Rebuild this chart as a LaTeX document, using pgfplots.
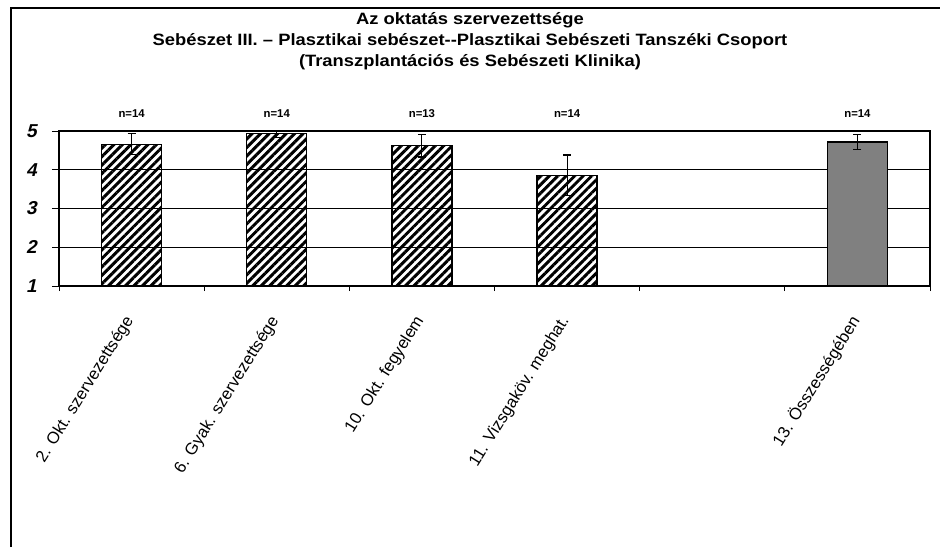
\documentclass[border=0pt]{standalone}
\usepackage{fontspec}
\setmainfont{Liberation Sans}
\newfontfamily\titlefont[FakeStretch=1.12]{Liberation Sans}
\newfontfamily\ytfont[FakeSlant=0.22]{Liberation Sans}
\usepackage{pgfplots}
\pgfplotsset{compat=1.18}
\usetikzlibrary{patterns.meta}
\begin{document}
\begin{tikzpicture}
\useasboundingbox (0,0) rectangle (705pt,410.25pt);
\draw[line width=1.1pt] (8.25pt,0) -- (8.25pt,404.25pt) -- (705.5pt,404.25pt);
\tikzset{tt/.style={anchor=base, inner sep=0pt, font=\titlefont\fontsize{12.3}{14}\selectfont\bfseries}}
\node[tt] at (352.5pt,391.5pt) {Az oktatás szervezettsége};
\node[tt] at (352.5pt,375.75pt) {Sebészet III. – Plasztikai sebészet-{}-Plasztikai Sebészeti Tanszéki Csoport};
\node[tt] at (352.5pt,360pt) {(Transzplantációs és Sebészeti Klinika)};
\begin{axis}[
  at={(44.25pt,195.75pt)}, anchor=south west,
  scale only axis, width=653.25pt, height=116.25pt,
  xmin=-0.5, xmax=5.5, ymin=1, ymax=5,
  ytick={1,2,3,4,5},
  yticklabels={1,2,3,4,5},
  ymajorgrids, grid style={black, line width=0.6pt},
  xtick={0,1,2,3,5},
  xticklabels={2. Okt. szervezettsége, 6. Gyak. szervezettsége, 10. Okt. fegyelem, 11. Vizsgaköv. meghat., 13. Összességében},
  major x tick style={draw=none},
  minor xtick={-0.5,0.5,1.5,2.5,3.5,4.5,5.5},
  tick align=outside,
  xtick pos=lower, ytick pos=left,
  major tick length=5.25pt, minor tick length=3.75pt,
  tick style={black, line width=0.6pt},
  axis line style={line width=0.9pt},
  yticklabel style={font=\ytfont\bfseries\fontsize{14}{15}\selectfont, xshift=-8pt},
  xticklabel style={font=\fontsize{12.5}{14}\selectfont, rotate=58, anchor=east, xshift=-13pt, yshift=-9pt},
  clip mode=individual,
]
\addplot[ybar, bar width=45pt, draw=black, line width=1pt,
  pattern={Lines[angle=45,distance=4.5pt,line width=2.2pt]}, pattern color=black,
  error bars/.cd, y dir=both, y explicit,
  error bar style={line width=0.8pt, black},
  error mark options={rotate=90, mark size=3pt, line width=0.8pt, black}]
  coordinates {(0,4.66) +- (0,0.27) (1,4.93) +- (0,0.1) (2,4.62) +- (0,0.29) (3,3.86) +- (0,0.52)};
\addplot[ybar, bar width=45pt, draw=black, line width=1pt, fill=gray,
  error bars/.cd, y dir=both, y explicit,
  error bar style={line width=0.8pt, black},
  error mark options={rotate=90, mark size=3pt, line width=0.8pt, black}]
  coordinates {(5,4.72) +- (0,0.2)};
\node[font=\fontsize{8.5}{10}\selectfont\bfseries] at (axis cs:0,5.46) {n=14};
\node[font=\fontsize{8.5}{10}\selectfont\bfseries] at (axis cs:1,5.46) {n=14};
\node[font=\fontsize{8.5}{10}\selectfont\bfseries] at (axis cs:2,5.46) {n=13};
\node[font=\fontsize{8.5}{10}\selectfont\bfseries] at (axis cs:3,5.46) {n=14};
\node[font=\fontsize{8.5}{10}\selectfont\bfseries] at (axis cs:5,5.46) {n=14};
\end{axis}
\end{tikzpicture}
\end{document}
